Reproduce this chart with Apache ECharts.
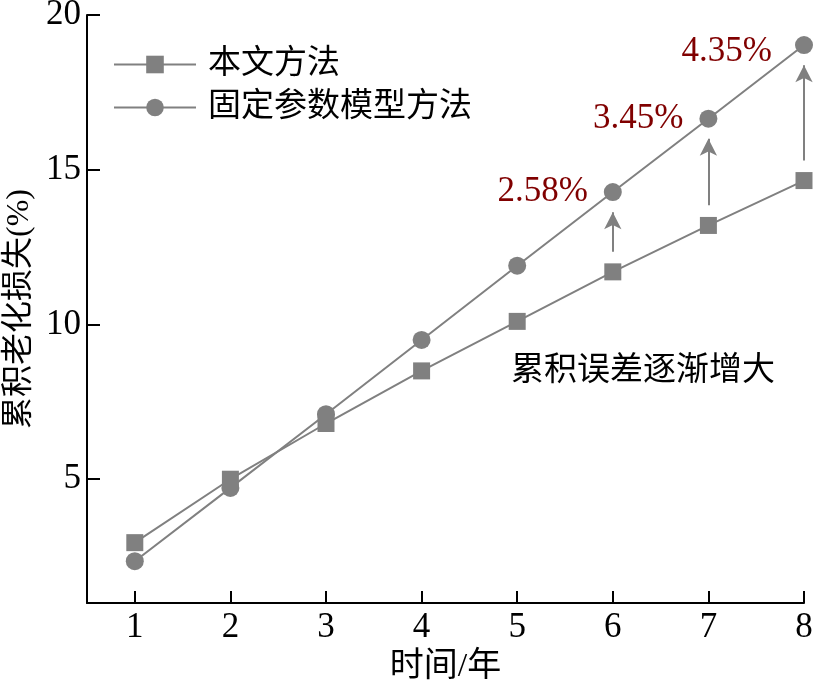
<!DOCTYPE html>
<html>
<head>
<meta charset="utf-8">
<script src="https://cdn.jsdelivr.net/npm/echarts@6/dist/echarts.min.js"></script>
<style>
html,body{margin:0;padding:0;background:#fff;}
#c{width:815px;height:684px;}
</style>
</head>
<body>
<div id="c"></div>
<script>
const years = [1, 2, 3, 4, 5, 6, 7, 8];
const proposed = [2.95, 5.0, 6.8, 8.5, 10.1, 11.7, 13.2, 14.65];
const fixedModel = [2.35, 4.72, 7.1, 9.5, 11.9, 14.28, 16.65, 19.03];
const gapLabels = ['', '', '', '', '', '2.58%', '3.45%', '4.35%'];
const arrowYears = [6, 7, 8];
const yTicks = [5, 10, 15, 20];
const seriesNames = ['本文方法', '固定参数模型方法'];
const annotationText = '累积误差逐渐增大';

const FONT = "'Liberation Serif', 'Noto Sans CJK SC', serif";
const GRAY = '#808080';
const gapUnits = 0.65;
const labelOffsets = { 7: [-7, 7] };

const arrowLines = arrowYears.map(function (yr) {
  const i = years.indexOf(yr);
  return [
    { coord: [yr, proposed[i] + gapUnits], symbol: 'none' },
    { coord: [yr, fixedModel[i] - gapUnits], symbol: 'arrow' }
  ];
});

const chart = echarts.init(document.getElementById('c'));
chart.setOption({
  backgroundColor: '#fff',
  animation: false,
  grid: { left: 87, right: 11, top: 15, bottom: 81, containLabel: false, outerBoundsMode: 'none' },
  legend: {
    left: 108, top: 43, orient: 'vertical',
    itemWidth: 82, itemHeight: 22, itemGap: 10,
    textStyle: { fontFamily: FONT, fontSize: 33, color: '#000', lineHeight: 33, padding: [0, 0, 0, 7] },
    data: seriesNames
  },
  xAxis: {
    type: 'value', min: 0.5, max: 8,
    name: '时间/年', nameLocation: 'middle', nameGap: 46,
    nameTextStyle: { fontFamily: FONT, fontSize: 34, color: '#000' },
    axisLine: { show: true, lineStyle: { color: '#000', width: 2 } },
    axisTick: { show: true, inside: true, length: 12, customValues: years, lineStyle: { color: '#000', width: 2 } },
    axisLabel: { customValues: years, margin: 7, fontFamily: FONT, fontSize: 35, color: '#000' },
    splitLine: { show: false }
  },
  yAxis: {
    type: 'value', min: 1, max: 20,
    name: '累积老化损失(%)', nameLocation: 'middle', nameGap: 51, nameRotate: 90,
    nameTextStyle: { fontFamily: FONT, fontSize: 32, color: '#000' },
    axisLine: { show: true, lineStyle: { color: '#000', width: 2 } },
    axisTick: { show: true, inside: true, length: 13, customValues: yTicks, lineStyle: { color: '#000', width: 2 } },
    axisLabel: { customValues: yTicks, margin: 6, fontFamily: FONT, fontSize: 35, color: '#000' },
    splitLine: { show: false }
  },
  series: [
    {
      name: seriesNames[0], type: 'line',
      data: years.map(function (x, i) { return [x, proposed[i]]; }),
      symbol: 'rect', symbolSize: 17,
      lineStyle: { color: GRAY, width: 2 },
      itemStyle: { color: GRAY },
      markLine: {
        silent: true, symbolSize: [13, 17],
        lineStyle: { color: GRAY, width: 2, type: 'solid' },
        label: { show: false },
        data: arrowLines
      }
    },
    {
      name: seriesNames[1], type: 'line',
      data: years.map(function (x, i) {
        const item = { value: [x, fixedModel[i]] };
        if (labelOffsets[i]) item.label = { offset: labelOffsets[i] };
        return item;
      }),
      symbol: 'circle', symbolSize: 18,
      lineStyle: { color: GRAY, width: 2 },
      itemStyle: { color: GRAY },
      label: {
        show: true, position: 'left', distance: 16,
        fontFamily: FONT, fontSize: 35, color: '#800000',
        formatter: function (p) { return gapLabels[p.dataIndex]; }
      }
    }
  ],
  graphic: [
    {
      type: 'text', left: 511, top: 355,
      style: { text: annotationText, fontFamily: FONT, fontSize: 33, fill: '#000' }
    }
  ]
});
</script>
</body>
</html>
